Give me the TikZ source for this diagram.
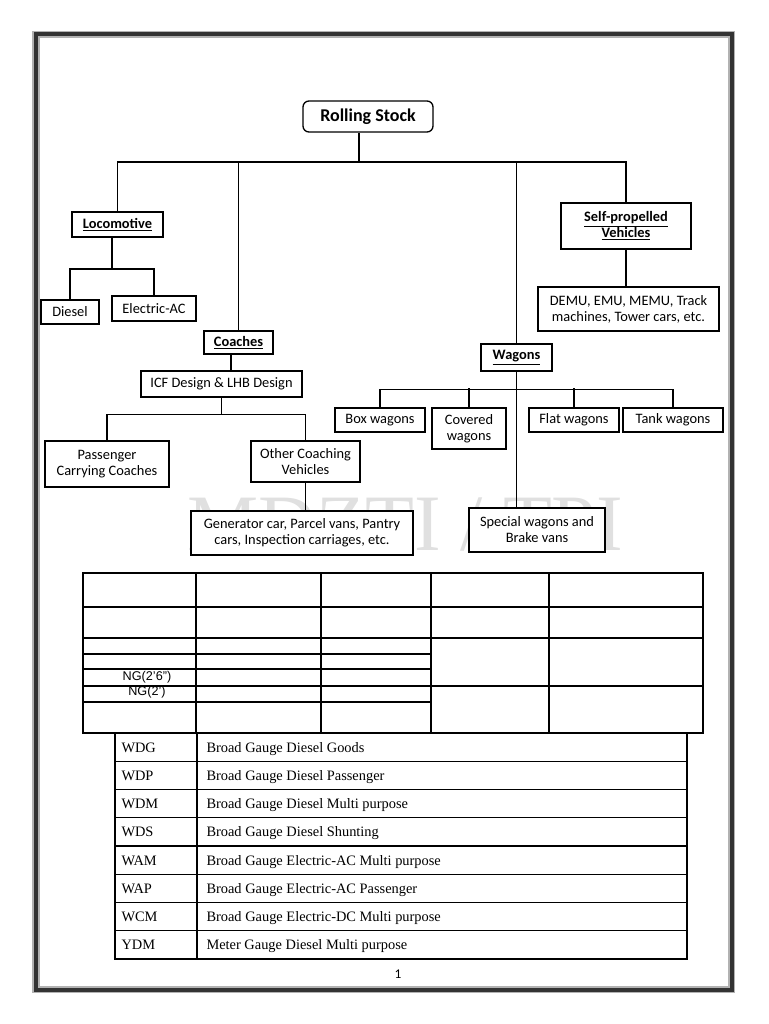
\documentclass[tikz,border=0pt]{standalone}
\usepackage{fontspec}
\setmainfont{Carlito}
\newfontfamily\tabfont{Liberation Serif}
\newfontfamily\gaugefont{Liberation Sans}
\usetikzlibrary{calc}

\tikzset{every picture/.style={line width=0.75pt}}
\tikzset{
  box/.style={draw, line width=1pt, fill=white, align=center, inner sep=0.75pt, font=\fontsize{10.8}{12}\selectfont},
  headbox/.style={box, font=\fontsize{10.8}{12}\selectfont\bfseries},
  link/.style={line width=1pt},
  rule/.style={line width=0.8pt},
}

\begin{document}
\begin{tikzpicture}[x=0.75pt,y=0.75pt,yscale=-1,xscale=1]
\useasboundingbox (0,0) rectangle (768,1024);

%Page frame
\draw [color=black!30, line width=5.5pt] (36,34.5) rectangle (731.5,989.5);
\draw [color=black!80, line width=3pt] (36,34.5) rectangle (731.5,989.5);

% Watermark
\node (mark) [anchor=base west, inner sep=0pt, color=black!12, font=\tabfont\fontsize{60}{60}\selectfont] at (187,550) {MDZTI / TPI};

% Text Node
\node (stock) [headbox, rounded corners=4.5pt, minimum width=97.5pt, minimum height=23.25pt, font=\fontsize{13.5}{15}\selectfont\bfseries] at (368,116.5) {Rolling Stock};
% Text Node
\node (loco) [headbox, minimum width=68.25pt, minimum height=18.75pt] at (117.5,224.5) {\underline{Locomotive}};
% Text Node
\node (diesel) [box, minimum width=43.5pt, minimum height=18pt] at (70,312) {Diesel};
% Text Node
\node (elec) [box, minimum width=63pt, minimum height=18.75pt] at (154,308.5) {Electric-AC};
% Text Node
\node (coach) [headbox, minimum width=51.75pt, minimum height=17.25pt] at (238.5,342.5) {\underline{Coaches}};
% Text Node
\node (icf) [box, minimum width=120.75pt, minimum height=19.5pt] at (221.5,384) {ICF Design \& LHB Design};
% Text Node
\node (pass) [box, minimum width=93pt, minimum height=34.5pt] at (107,464) {Passenger\\Carrying Coaches};
% Text Node
\node (other) [box, minimum width=81.75pt, minimum height=30.75pt] at (305.5,461.5) {Other Coaching\\Vehicles};
% Text Node
\node (gen) [box, minimum width=166.5pt, minimum height=33pt] at (302,533) {Generator car, Parcel vans, Pantry\\cars, Inspection carriages, etc.};
% Text Node
\node (self) [headbox, minimum width=97.5pt, minimum height=34.5pt] at (626,226) {\underline{Self-propelled}\\\underline{Vehicles}};
% Text Node
\node (demu) [box, minimum width=135.75pt, minimum height=33pt] at (628.5,309) {DEMU, EMU, MEMU, Track\\machines, Tower cars, etc.};
% Text Node
\node (wagons) [headbox, minimum width=53.25pt, minimum height=20.25pt] at (516.5,357.5) {\underline{Wagons}};
% Text Node
\node (boxw) [box, minimum width=67.5pt, minimum height=18pt] at (380,420) {Box wagons};
% Text Node
\node (covered) [box, minimum width=55.5pt, minimum height=30.75pt] at (469,428.5) {Covered\\wagons};
% Text Node
\node (flat) [box, minimum width=67.5pt, minimum height=18pt] at (574,420) {Flat wagons};
% Text Node
\node (tank) [box, minimum width=75pt, minimum height=18pt] at (673,420) {Tank wagons};
% Text Node
\node (special) [box, minimum width=102pt, minimum height=33pt] at (537,530) {Special wagons and\\Brake vans};

%Connectors
\coordinate (stockbus) at (359,162);
\draw [link] ($(stock.south)+(-9,0)$) -- (stockbus);
\draw [link] (loco.north) |- (stockbus) -| (self.north);
\draw [link] (coach.north) -- (coach.north |- stockbus);
\draw [link] (wagons.north) -- (wagons.north |- stockbus);
\coordinate (locobus) at (112,269);
\draw [link] (loco.south -| locobus) -- (locobus);
\draw [link] (diesel.north) |- (locobus) -| (elec.north);
\draw [link] ($(coach.south)+(-7.5,0)$) coordinate (cs) -- (cs |- icf.north);
\draw [link] (icf.south) -- +(0,17) coordinate (icfbus);
\draw [link] (pass.north) |- (icfbus) -| (other.north);
\draw [link] (other.south) -- (other.south |- gen.north);
\draw [link] (self.south) -- (self.south |- demu.north);
\draw [link] (wagons.south) -- (wagons.south |- special.north);
\draw [link] (boxw.north) |- ($(wagons.south)+(0,18)$) -| (tank.north);
\draw [link] (covered.north) -- +(0,-19);
\draw [link] (flat.north) -- +(0,-19);

%Gauge table
\draw [rule] (83,573) rectangle (703,733);
\foreach \x in {196,321,431,549} \draw [rule] (\x,573) -- (\x,733);
\foreach \y in {607,638,686} \draw [rule] (83,\y) -- (703,\y);
\foreach \y in {654,669,702} \draw [rule] (83,\y) -- (431,\y);
% Text Node
\node (ngA) [inner sep=0pt, font=\gaugefont\fontsize{9.5}{11}\selectfont] at (147,677.5) {NG(2’6”)};
% Text Node
\node (ngB) [inner sep=0pt, font=\gaugefont\fontsize{9.5}{11}\selectfont] at (147,692.5) {NG(2’)};

%Code table
\draw [rule] (115,733) rectangle (687,959);
\draw [rule] (197,733) -- (197,959);
\foreach \k in {1,...,7} \draw [rule] (115,{733+28.25*\k}) -- (687,{733+28.25*\k});
\foreach \code/\desc [count=\i from 0] in {WDG/Broad Gauge Diesel Goods, WDP/Broad Gauge Diesel Passenger, WDM/Broad Gauge Diesel Multi purpose, WDS/Broad Gauge Diesel Shunting, WAM/Broad Gauge Electric-AC Multi purpose, WAP/Broad Gauge Electric-AC Passenger, WCM/Broad Gauge Electric-DC Multi purpose, YDM/Meter Gauge Diesel Multi purpose} {
  \node (code\i) [anchor=base west, inner sep=0pt, font=\tabfont\fontsize{10.8}{13}\selectfont] at (121,{752+28.25*\i}) {\code};
  \node (desc\i) [anchor=base west, inner sep=0pt, font=\tabfont\fontsize{10.8}{13}\selectfont] at (206,{752+28.25*\i}) {\desc};
}

% Text Node
\node (pageno) [inner sep=0pt, font=\fontsize{10}{12}\selectfont] at (398,974) {1};

\end{tikzpicture}
\end{document}
